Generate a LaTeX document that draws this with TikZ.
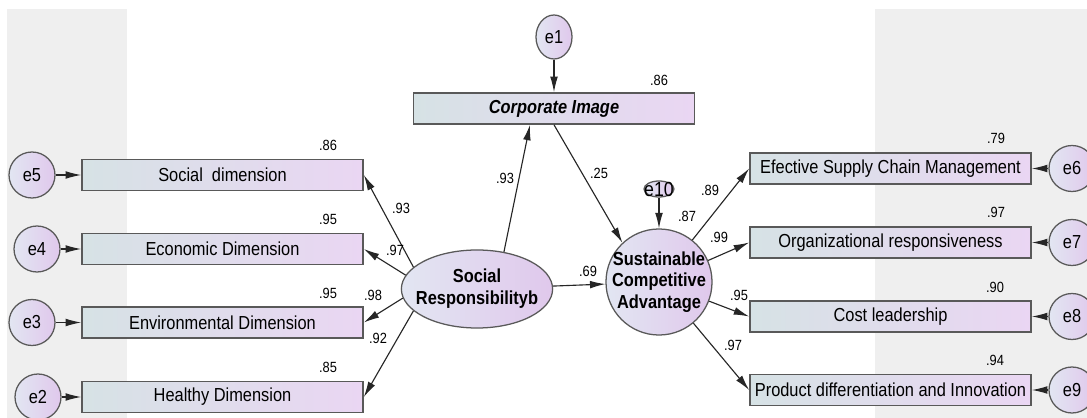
\documentclass[tikz,border=0pt]{standalone}
\usepackage{fontspec}
\newfontfamily\amosfont{Liberation Sans}[FakeStretch=0.87]
\usetikzlibrary{shapes.geometric,arrows.meta,calc}

\definecolor{fondgris}{RGB}{239,239,239}
\definecolor{boiteG}{RGB}{214,226,229}
\definecolor{boiteD}{RGB}{234,214,243}
\definecolor{cercleG}{RGB}{226,230,242}
\definecolor{cercleD}{RGB}{224,200,236}

\begin{document}
\begin{tikzpicture}  % ------ Modele structurel (AMOS) ---------------
      [x=0.025cm,y=-0.025cm,
       font=\amosfont\fontsize{13.4}{15.5}\selectfont,
       boite/.style={draw=black!65,line width=1pt,left color=boiteG,right color=boiteD,
                     minimum width=7.03cm,minimum height=0.78cm,inner sep=0pt},
       erreur/.style={circle,draw=black!65,line width=0.9pt,left color=cercleG,right color=cercleD,
                      minimum size=1.15cm,inner sep=0pt},
       latente/.style={draw=black!65,line width=0.9pt,left color=cercleG,right color=cercleD,inner sep=0pt},
       gras/.style={font=\amosfont\bfseries\fontsize{13.4}{15.5}\selectfont,align=center},
       fleche/.style={-{Latex[length=11pt,width=5.5pt]},black!85,line width=0.8pt},
       coef/.style={font=\amosfont\fontsize{10.5}{12}\selectfont}]
    \useasboundingbox (0,0) rectangle (1087,418);
    \fill[white] (0,0) rectangle (1087,418);
    \fill[fondgris] (7,9) rectangle (127,418);
    \fill[fondgris] (875,9) rectangle (1087,418);

    % variables latentes
    \node[latente,ellipse,minimum width=3.78cm,minimum height=1.95cm,
          label={[gras]center:Social\\Responsibilityb}] (sr) at (477,289) {};
    \node[latente,circle,minimum size=2.65cm,
          label={[gras]center:Sustainable\\Competitive\\Advantage}] (sca) at (659,282) {};
    \node[boite,font=\amosfont\bfseries\itshape\fontsize{13.4}{15.5}\selectfont] (ci) at (554,108.5) {Corporate Image};

    % indicateurs
    \node[boite] (soc) at (222.5,175) {Social\ \ dimension};
    \node[boite] (eco) at (222.5,249) {Economic Dimension};
    \node[boite] (env) at (222.5,322.5) {Environmental Dimension};
    \node[boite] (hea) at (222.5,397) {Healthy Dimension};
    \node[boite] (esc) at (890.5,168.5) {Efective Supply Chain Management};
    \node[boite] (org) at (890.5,242.5) {Organizational responsiveness};
    \node[boite] (cst) at (890.5,316.5) {Cost leadership};
    \node[boite] (pdi) at (890.5,390) {Product differentiation and Innovation};

    % erreurs
    \node[erreur,ellipse,minimum width=0.9cm,minimum height=1.1cm] (e1) at (554,37) {e1};
    \node[erreur,ellipse,minimum width=0.75cm,minimum height=0.4cm,
          label={[font=\amosfont\fontsize{14.5}{16}\selectfont]center:e10}] (e10) at (659,189) {};
    \node[erreur] (e5) at (32,175) {e5};
    \node[erreur] (e4) at (37,249) {e4};
    \node[erreur] (e3) at (32,322.5) {e3};
    \node[erreur] (e2) at (38,397) {e2};
    \node[erreur] (e6) at (1072,168.5) {e6};
    \node[erreur] (e7) at (1072,242.5) {e7};
    \node[erreur] (e8) at (1072,316.5) {e8};
    \node[erreur] (e9) at (1072,390) {e9};

    % fleches
    \draw[fleche] (e1) -- (ci);
    \draw[fleche] (e10) -- (sca);
    \draw[fleche] (sr.54) -- ($(ci.south)+(-24,0)$);
    \draw[fleche] (ci.south) -- (sca.133);
    \draw[fleche] (sr) -- (sca);
    \draw[fleche] (sr.161) -- (soc.east);
    \draw[fleche] (sr.169) -- (eco.east);
    \draw[fleche] (sr.187) -- (env.east);
    \draw[fleche] (sr.199) -- (hea.east);
    \draw[fleche] (sca) -- (esc.west);
    \draw[fleche] (sca) -- (org.west);
    \draw[fleche] (sca) -- (cst.west);
    \draw[fleche] (sca) -- (pdi.west);
    \foreach \e/\b in {e5/soc,e4/eco,e3/env,e2/hea,e6/esc,e7/org,e8/cst,e9/pdi}
      \draw[fleche] (\e) -- (\b);

    % coefficients
    \node[coef] (r2soc) at (328,145) {.86};
    \node[coef] (r2eco) at (328,219) {.95};
    \node[coef] (r2env) at (328,293) {.95};
    \node[coef] (r2hea) at (328,367) {.85};
    \node[coef] (lsoc) at (401,208) {.93};
    \node[coef] (leco) at (395,250) {.97};
    \node[coef] (lenv) at (373,295) {.98};
    \node[coef] (lhea) at (378,338) {.92};
    \node[coef] (lci) at (505,178) {.93};
    \node[coef] (lcisca) at (599,173) {.25};
    \node[coef] (lsrsca) at (588,271) {.69};
    \node[coef] (r2ci) at (659,80) {.86};
    \node[coef] (r2sca) at (687,216) {.87};
    \node[coef] (lesc) at (710,190) {.89};
    \node[coef] (lorg) at (719,237) {.99};
    \node[coef] (lcst) at (739,295) {.95};
    \node[coef] (lpdi) at (733,345) {.97};
    \node[coef] (r2esc) at (996,138) {.79};
    \node[coef] (r2org) at (996,212) {.97};
    \node[coef] (r2cst) at (995,287) {.90};
    \node[coef] (r2pdi) at (995,360) {.94};
\end{tikzpicture}
\end{document}
